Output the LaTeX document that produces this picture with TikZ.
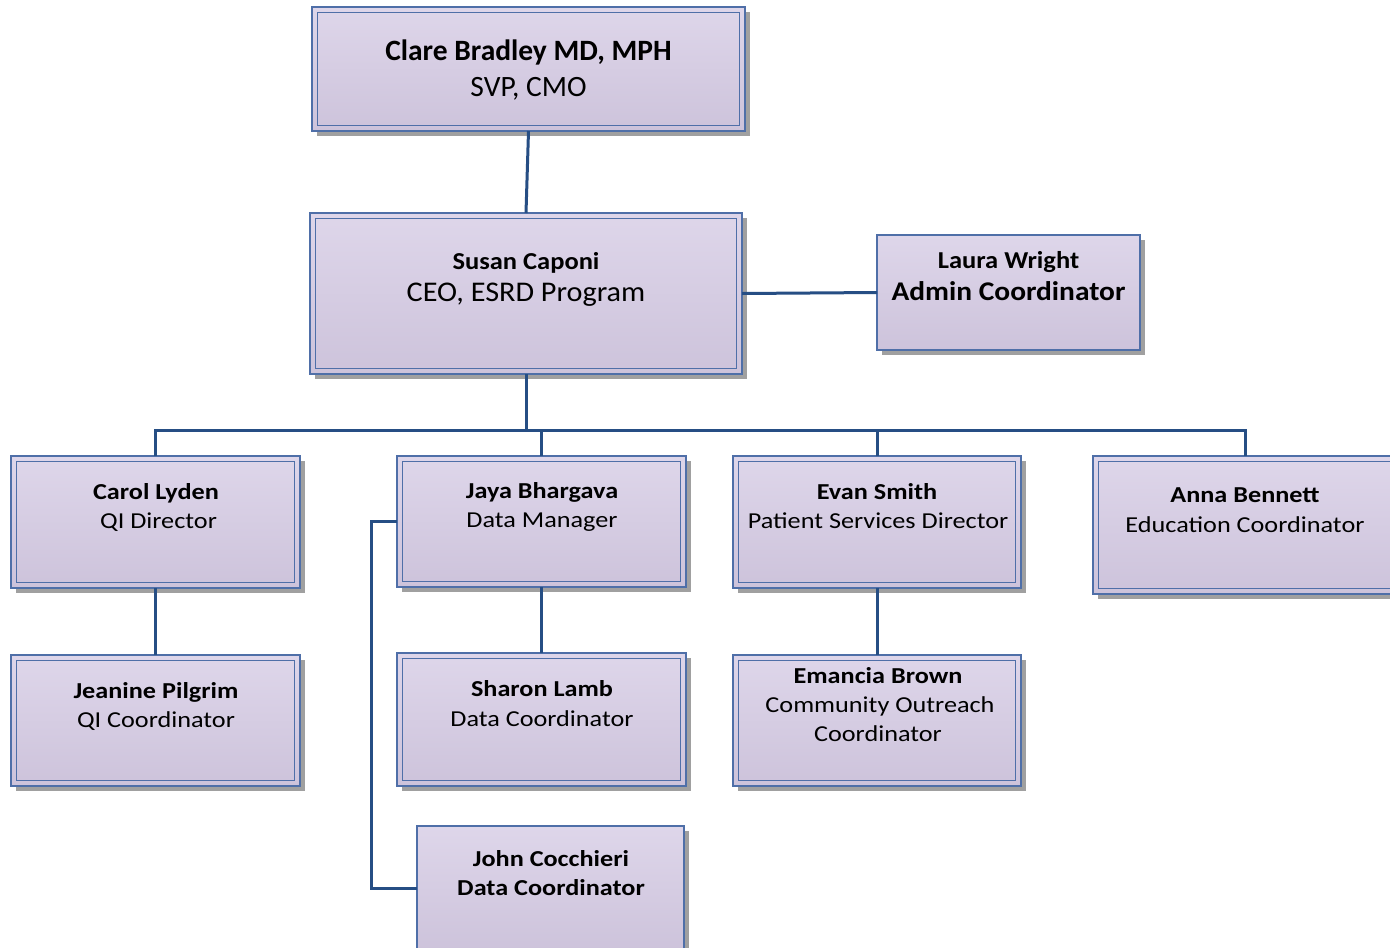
\documentclass[tikz,border=0pt]{standalone}
\usepackage{fontspec}
\setmainfont{Carlito}
\newfontfamily\fa{Carlito}[FakeStretch=1.09]
\newfontfamily\fc{Carlito}[FakeStretch=1.06]
\newfontfamily\fb{Carlito}[FakeStretch=1.15]
\usetikzlibrary{shadows}
\definecolor{lnc}{RGB}{38,78,132}
\definecolor{bdc}{RGB}{79,111,168}
\definecolor{topc}{RGB}{222,214,234}
\definecolor{botc}{RGB}{205,195,219}
\definecolor{shc}{RGB}{160,160,160}
\tikzset{
 orgbox/.style={draw=bdc, line width=1.8pt, top color=topc, bottom color=botc, inner sep=0pt, outer sep=0pt,
   drop shadow={shadow xshift=5pt, shadow yshift=-5pt, fill=shc, opacity=1}},
 conn/.style={draw=lnc, line width=3pt},
 inb/.style={draw=bdc, line width=1.3pt},
 t0n/.style={anchor=base, inner sep=0pt, font=\bfseries\fontsize{29.5}{33}\selectfont},
 t0r/.style={anchor=base, inner sep=0pt, font=\fontsize{29.5}{33}\selectfont},
 t1n/.style={anchor=base, inner sep=0pt, font=\fa\bfseries\fontsize{24.3}{28}\selectfont},
 t1r/.style={anchor=base, inner sep=0pt, font=\fc\fontsize{28.5}{32}\selectfont},
 t1a/.style={anchor=base, inner sep=0pt, font=\fa\bfseries\fontsize{27}{31}\selectfont},
 t2n/.style={anchor=base, inner sep=0pt, font=\fb\bfseries\fontsize{22.8}{26}\selectfont},
 t2r/.style={anchor=base, inner sep=0pt, font=\fb\fontsize{22.8}{26}\selectfont},
}
\newcommand\obox[5]{%
  \node[orgbox, minimum width={#4-#2}, minimum height={#5-#3}] (#1) at ({(#2+#4)/2},{(#3+#5)/2}) {};
  \draw[inb] ([xshift=5.5pt,yshift=-5.5pt]#1.north west) rectangle ([xshift=-5.5pt,yshift=5.5pt]#1.south east);}
\newcommand\onebox[5]{%
  \node[orgbox, minimum width={#4-#2}, minimum height={#5-#3}] (#1) at ({(#2+#4)/2},{(#3+#5)/2}) {};}
\begin{document}
\begin{tikzpicture}[x=1pt,y=-1pt]
\useasboundingbox (0,0) rectangle (1390,948);
\fill[white] (0,0) rectangle (1390,948);
\clip (0,0) rectangle (1390,948);
\obox{clare}{312}{7}{745}{131}
\obox{susan}{310}{213}{742}{374}
\onebox{laura}{877}{235}{1140}{350}
\obox{carol}{11}{456}{300}{588}
\obox{jaya}{397}{456}{686}{587}
\obox{evan}{733}{456}{1021}{588}
\obox{anna}{1093}{456}{1397}{594}
\obox{jeanine}{11}{655}{300}{786}
\obox{sharon}{397}{653}{686}{786}
\obox{emancia}{733}{655}{1021}{786}
\onebox{john}{417}{826}{684}{950}
% texts
\node[t0n] (clare-a) at (528.5,60) {Clare Bradley MD, MPH};
\node[t0r] (clare-b) at (528.5,96) {SVP, CMO};
\node[t1n] (susan-a) at (526,269) {Susan Caponi};
\node[t1r] (susan-b) at (526,301.5) {CEO, ESRD Program};
\node[t1n] (laura-a) at (1008.5,268.5) {Laura Wright};
\node[t1a] (laura-b) at (1008.5,300.5) {Admin Coordinator};
\node[t2n] (carol-a) at (156,499.5) {Carol Lyden};
\node[t2r] (carol-b) at (158.5,528) {QI Director};
\node[t2n] (jaya-a) at (542,498) {Jaya Bhargava};
\node[t2r] (jaya-b) at (542,527) {Data Manager};
\node[t2n] (evan-a) at (877,499) {Evan Smith};
\node[t2r] (evan-b) at (878,528) {Patient Services Director};
\node[t2n] (anna-a) at (1245,502) {Anna Bennett};
\node[t2r] (anna-b) at (1245,532.5) {Education Coordinator};
\node[t2n] (jean-a) at (156,698) {Jeanine Pilgrim};
\node[t2r] (jean-b) at (156,727) {QI Coordinator};
\node[t2n] (sharon-a) at (542,696) {Sharon Lamb};
\node[t2r] (sharon-b) at (542,726.5) {Data Coordinator};
\node[t2n] (em-a) at (878,683.5) {Emancia Brown};
\node[t2r] (em-b) at (880,712.5) {Community Outreach};
\node[t2r] (em-c) at (878,741.5) {Coordinator};
\node[t2n] (john-a) at (551,866.5) {John Cocchieri};
\node[t2n] (john-b) at (551,895.5) {Data Coordinator};
% connectors
\coordinate (bus) at (526,430);
\coordinate (jl) at (371,500);
\draw[conn] (clare.south) -- (susan.north);
\draw[conn] (susan.south) -- (bus);
\draw[conn] (carol.north) |- (bus) -| (anna.north);
\draw[conn] (jaya.north) -- (jaya.north |- bus);
\draw[conn] (evan.north) -- (evan.north |- bus);
\draw[conn] (susan.east) -- (laura.west);
\draw[conn] (carol.south) -- (jeanine.north);
\draw[conn] (jaya.south) -- (sharon.north);
\draw[conn] (evan.south) -- (emancia.north);
\draw[conn] (jaya.west) -- (jaya.west -| jl) |- (john.west);
\end{tikzpicture}
\end{document}
